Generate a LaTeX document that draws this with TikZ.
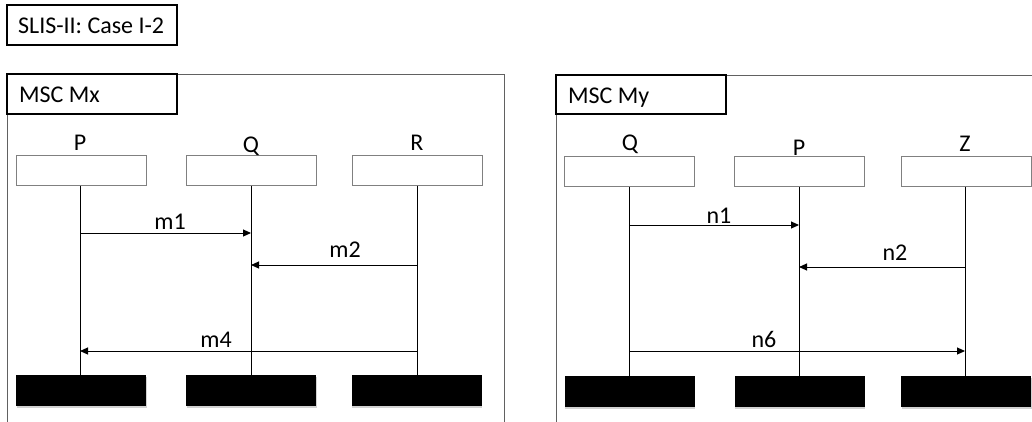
\documentclass[tikz,border=0pt]{standalone}
\usepackage{fontspec}
\setmainfont{Carlito}
\usetikzlibrary{arrows.meta,shadows}
\begin{document}
\begin{tikzpicture}[x=1pt,y=-1pt,
  lbl/.style={inner sep=0pt,font=\fontsize{24}{29}\selectfont},
  titlebox/.style={draw=black,line width=1.4pt,inner sep=0pt},
  frameline/.style={draw=black!62,line width=1pt},
  headbox/.style={draw=black!50,line width=1pt,fill=white,minimum width=130pt,minimum height=30pt,inner sep=0pt},
  endbar/.style={fill=black,draw=none,minimum width=130pt,minimum height=31pt,inner sep=0pt,
     drop shadow={shadow xshift=0.8pt,shadow yshift=-1.5pt,opacity=0.35}},
  lifeline/.style={draw=black,line width=1pt},
  msg/.style={draw=black,line width=1pt,-{Triangle[length=8pt,width=7pt]}}
]
\clip (0,0) rectangle (1032,421);
\fill[white] (0,0) rectangle (1032,421);
% title
\node[titlebox,minimum width=170pt,minimum height=40pt] (title) at (92,25) {};
\node[lbl,anchor=base west] (titletxt) at (18,33) {SLIS-II: Case I-2};
% left frame
\draw[frameline] (7,430) -- (7,74) -- (504,74) -- (504,430);
\node[titlebox,fill=white,minimum width=170pt,minimum height=40pt] (mx) at (92,94) {};
\node[lbl,anchor=base west] (mxtxt) at (19,102) {MSC Mx};
% right frame
\draw[frameline] (556,430) -- (556,75) -- (1040,75);
\node[titlebox,fill=white,minimum width=170pt,minimum height=39pt] (my) at (641,94.5) {};
\node[lbl,anchor=base west] (mytxt) at (568,103) {MSC My};

% left heads
\node[headbox] (P1) at (81,170) {};
\node[headbox] (Q1) at (251,170) {};
\node[headbox] (R1) at (417,170) {};
\node[lbl,anchor=base] (P1l) at (80,150) {P};
\node[lbl,anchor=base] (Q1l) at (251,152) {Q};
\node[lbl,anchor=base] (R1l) at (417,150) {R};
\node[endbar] (P1e) at (81,390.5) {};
\node[endbar] (Q1e) at (251,390.5) {};
\node[endbar] (R1e) at (416.5,390.5) {};
\draw[lifeline] (P1.south -| 80,0) -- (P1e.north -| 80,0);
\draw[lifeline] (Q1.south) -- (Q1e.north);
\draw[lifeline] (R1.south) -- (R1e.north -| R1.south);
\coordinate (m1a) at (80,233); \coordinate (m1b) at (251,233);
\coordinate (m2a) at (417,265); \coordinate (m2b) at (251,265);
\coordinate (m4a) at (417,351); \coordinate (m4b) at (80,351);
\draw[msg] (m1a) -- (m1b);
\draw[msg] (m2a) -- (m2b);
\draw[msg] (m4a) -- (m4b);
\node[lbl,anchor=base] (m1) at (170,229) {m1};
\node[lbl,anchor=base] (m2) at (345,257) {m2};
\node[lbl,anchor=base] (m4) at (216,347) {m4};

% right heads
\node[headbox] (Q2) at (629.5,171.5) {};
\node[headbox] (P2) at (799.5,171.5) {};
\node[headbox] (Z2) at (966,171.5) {};
\node[lbl,anchor=base] (Q2l) at (630,150) {Q};
\node[lbl,anchor=base] (P2l) at (799,155) {P};
\node[lbl,anchor=base] (Z2l) at (965,151) {Z};
\node[endbar] (Q2e) at (629.5,391.5) {};
\node[endbar] (P2e) at (799.5,391.5) {};
\node[endbar] (Z2e) at (966,391.5) {};
\draw[lifeline] (Q2.south) -- (Q2e.north);
\draw[lifeline] (P2.south) -- (P2e.north);
\draw[lifeline] (965,186.5) -- (Z2e.north -| 965,0);
\coordinate (n1a) at (629,225); \coordinate (n1b) at (799,225);
\coordinate (n2a) at (965,267); \coordinate (n2b) at (799,267);
\coordinate (n6a) at (629,351); \coordinate (n6b) at (965,351);
\draw[msg] (n1a) -- (n1b);
\draw[msg] (n2a) -- (n2b);
\draw[msg] (n6a) -- (n6b);
\node[lbl,anchor=base] (n1) at (719,223) {n1};
\node[lbl,anchor=base] (n2) at (895,260) {n2};
\node[lbl,anchor=base] (n6) at (764,347) {n6};
\end{tikzpicture}
\end{document}
